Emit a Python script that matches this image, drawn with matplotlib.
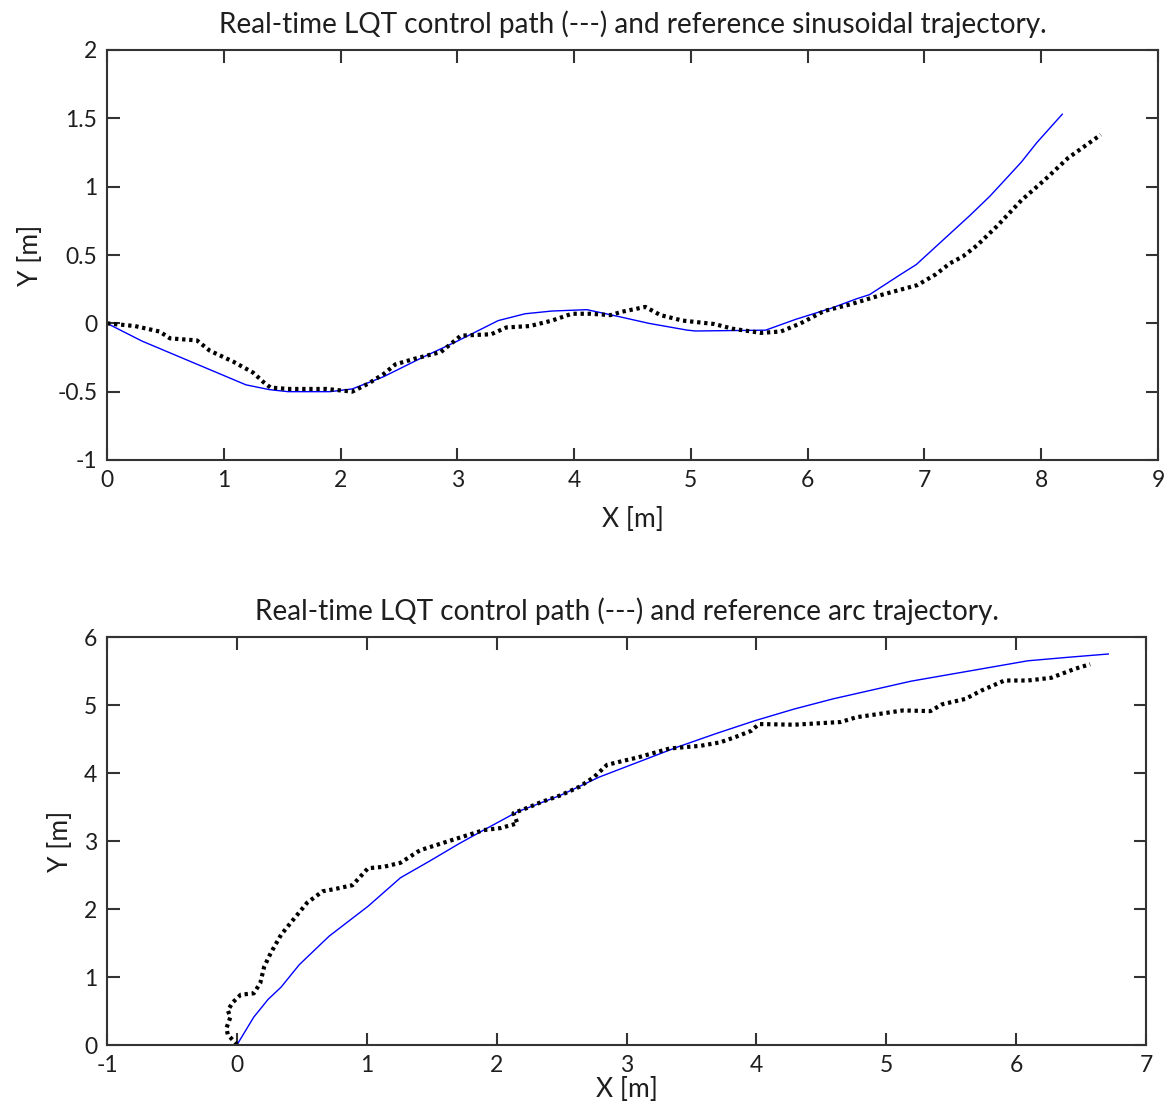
import matplotlib
matplotlib.use("Agg")
import matplotlib.pyplot as plt

plt.rcParams['font.family'] = ['Lato', 'DejaVu Sans']
plt.rcParams['axes.unicode_minus'] = False

# --- Top chart: sinusoidal trajectory ---
sin_ref_x = [0, 0.3, 1.19, 1.39, 1.55, 1.91, 2.1, 2.37, 2.7, 3.0, 3.35, 3.58, 3.81, 4.11,
             4.38, 4.64, 4.97, 5.04, 5.64, 5.9, 6.2, 6.42, 6.53, 6.8, 6.93, 7.16, 7.39,
             7.56, 7.69, 7.83, 7.96, 8.18]
sin_ref_y = [0.0, -0.13, -0.45, -0.485, -0.5, -0.5, -0.48, -0.39, -0.25, -0.13, 0.02, 0.07,
             0.09, 0.1, 0.05, 0.0, -0.05, -0.056, -0.05, 0.03, 0.11, 0.18, 0.21, 0.36, 0.43,
             0.61, 0.79, 0.93, 1.05, 1.18, 1.32, 1.53]

sin_lqt_x = [0, 0.24, 0.45, 0.54, 0.77, 0.88, 1.08, 1.25, 1.34, 1.4, 1.55, 1.88, 2.1, 2.24,
             2.37, 2.47, 2.63, 2.86, 3.03, 3.29, 3.42, 3.62, 3.81, 3.98, 4.14, 4.31, 4.41,
             4.61, 4.74, 4.93, 5.2, 5.36, 5.6, 5.77, 5.94, 6.14, 6.37, 6.64, 6.94, 7.1, 7.22,
             7.33, 7.45, 7.62, 7.83, 8.03, 8.23, 8.51]
sin_lqt_y = [0.0, -0.02, -0.06, -0.11, -0.125, -0.2, -0.28, -0.36, -0.43, -0.47, -0.48, -0.48,
             -0.5, -0.44, -0.37, -0.3, -0.26, -0.21, -0.09, -0.08, -0.03, -0.02, 0.02, 0.07,
             0.07, 0.06, 0.085, 0.12, 0.06, 0.02, -0.005, -0.04, -0.07, -0.06, 0.0, 0.09,
             0.14, 0.21, 0.28, 0.36, 0.44, 0.49, 0.57, 0.71, 0.9, 1.05, 1.21, 1.38]

# --- Bottom chart: arc trajectory ---
arc_ref_x = [0, 0.13, 0.24, 0.34, 0.48, 0.71, 1.01, 1.26, 1.48, 1.71, 1.9, 2.16, 2.49, 2.79,
             3.09, 3.39, 3.69, 3.99, 4.29, 4.59, 4.89, 5.19, 5.49, 5.79, 6.09, 6.39, 6.71]
arc_ref_y = [0.0, 0.41, 0.67, 0.85, 1.18, 1.6, 2.04, 2.46, 2.7, 2.96, 3.16, 3.43, 3.67, 3.94,
             4.16, 4.38, 4.58, 4.77, 4.94, 5.09, 5.22, 5.35, 5.45, 5.55, 5.65, 5.7, 5.75]

arc_lqt_x = [0, -0.01, -0.07, -0.08, -0.05, -0.07, -0.03, 0.03, 0.13, 0.18, 0.21, 0.26, 0.34,
             0.42, 0.54, 0.66, 0.77, 0.89, 1.01, 1.13, 1.26, 1.39, 1.42, 1.65, 1.9, 2.03,
             2.16, 2.13, 2.24, 2.34, 2.49, 2.64, 2.75, 2.85, 3.0, 3.09, 3.33, 3.57, 3.72,
             3.84, 3.96, 4.02, 4.29, 4.65, 4.77, 5.13, 5.34, 5.43, 5.61, 5.73, 5.91, 6.09,
             6.27, 6.45, 6.57]
arc_lqt_y = [0.0, 0.03, 0.15, 0.25, 0.41, 0.51, 0.63, 0.74, 0.76, 0.91, 1.15, 1.35, 1.62,
             1.81, 2.09, 2.26, 2.3, 2.35, 2.6, 2.62, 2.68, 2.84, 2.87, 3.01, 3.16, 3.19,
             3.26, 3.41, 3.49, 3.57, 3.67, 3.8, 3.94, 4.12, 4.19, 4.23, 4.36, 4.4, 4.45,
             4.53, 4.62, 4.72, 4.71, 4.75, 4.82, 4.92, 4.91, 5.01, 5.09, 5.21, 5.36, 5.36,
             5.4, 5.53, 5.6]

titles = ["Real-time LQT control path (---) and reference sinusoidal trajectory.",
          "Real-time LQT control path (---) and reference arc trajectory."]
top_xticks = list(range(0, 10))
top_yticks = [-1, -0.5, 0, 0.5, 1, 1.5, 2]
top_yticklabels = ["-1", "-0.5", "0", "0.5", "1", "1.5", "2"]
bot_xticks = list(range(-1, 8))
bot_yticks = list(range(0, 7))

W, H = 1170, 1109
fig = plt.figure(figsize=(W / 100, H / 100), dpi=100)
ax1 = fig.add_axes([107 / W, 1 - 460 / H, (1158 - 107) / W, (460 - 50) / H])
ax2 = fig.add_axes([107 / W, 1 - 1045 / H, (1146 - 107) / W, (1045 - 637) / H])

txtc = '#1e1e1e'
for ax in (ax1, ax2):
    for s in ax.spines.values():
        s.set_linewidth(1.5)
        s.set_color('#333333')
    ax.tick_params(direction='in', top=True, right=True, length=9, width=1.5,
                   colors='#333333', labelcolor=txtc, labelsize=16.5, pad=7)

ax1.plot(sin_ref_x, sin_ref_y, color='blue', lw=1.0)
ax1.plot(sin_lqt_x, sin_lqt_y, color='black', lw=3.0, ls=(0, (0.8, 0.9)))
ax1.set_xlim(0, 9)
ax1.set_ylim(-1, 2)
ax1.set_xticks(top_xticks)
ax1.set_yticks(top_yticks)
ax1.set_yticklabels(top_yticklabels)
ax1.set_title(titles[0], fontsize=20.2, color=txtc, pad=12)
ax1.set_xlabel("X [m]", fontsize=19, color=txtc, labelpad=12)
ax1.set_ylabel("Y [m]", fontsize=19, color=txtc, labelpad=10)

ax2.plot(arc_ref_x, arc_ref_y, color='blue', lw=1.0)
ax2.plot(arc_lqt_x, arc_lqt_y, color='black', lw=3.0, ls=(0, (0.8, 0.9)))
ax2.set_xlim(-1, 7)
ax2.set_ylim(0, 6)
ax2.set_xticks(bot_xticks)
ax2.set_yticks(bot_yticks)
ax2.set_title(titles[1], fontsize=20.2, color=txtc, pad=12)
ax2.set_xlabel("X [m]", fontsize=19, color=txtc, labelpad=1)
ax2.set_ylabel("Y [m]", fontsize=19, color=txtc, labelpad=8)

fig.savefig("out.png", dpi=100)
